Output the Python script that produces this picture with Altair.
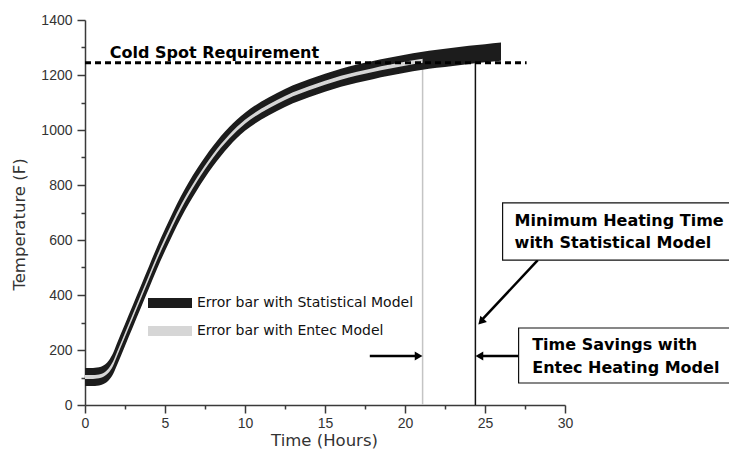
import altair as alt
import pandas as pd

# ---------------- data ----------------
STAT = "Error bar with Statistical Model"
ENTEC = "Error bar with Entec Model"

time = [0, 0.5, 0.75, 1, 1.25, 1.5, 1.75, 2, 2.5, 3, 3.5, 4, 4.5, 5, 5.5, 6, 7, 8, 9, 10,
        11, 12, 13, 14, 15, 16, 17, 18, 19, 20, 21, 22, 23, 24, 25, 26]
stat_low = [69, 69, 70, 73, 79, 91, 112, 145, 215, 285, 355, 425, 495, 560, 622, 680, 781,
            868, 940, 997, 1037, 1069, 1097, 1119, 1139, 1157, 1172, 1185, 1197, 1208,
            1218, 1226, 1233, 1240, 1246, 1252]
stat_high = [135, 135, 136, 139, 147, 163, 188, 225, 295, 365, 435, 505, 575, 640, 702, 760,
             859, 942, 1010, 1063, 1103, 1135, 1163, 1185, 1205, 1223, 1238, 1251, 1263,
             1274, 1284, 1292, 1299, 1306, 1312, 1318]

entec_time = [0, 0.5, 0.75, 1, 1.25, 1.5, 1.75, 2, 2.5, 3, 3.5, 4, 4.5, 5, 5.5, 6, 7, 8, 9,
              10, 11, 12, 13, 14, 15, 16, 17, 18, 19, 20, 21, 21.1]
entec_low = [95, 95, 96, 99, 106, 119, 142, 177, 247, 317, 387, 457, 527, 592, 654, 712, 813,
             898, 968, 1023, 1063, 1095, 1123, 1145, 1165, 1183, 1198, 1211, 1223, 1234,
             1244, 1245]
entec_high = [109, 109, 110, 113, 120, 135, 158, 193, 263, 333, 403, 473, 543, 608, 670, 728,
              827, 912, 982, 1037, 1077, 1109, 1137, 1159, 1179, 1197, 1212, 1225, 1237,
              1248, 1258, 1259]

cold_spot = 1245
cold_spot_x = [0, 27.6]
cold_label = ["Cold Spot Requirement"]
cold_label_pos = [1.55, 1262]

entec_line = {"x": 21.1, "top": 1250, "color": "#c4c4c4"}
stat_line = {"x": 24.4, "top": 1245, "color": "#111111"}

# arrows: shaft start/end (time, temperature) and head position
arrow1 = {"x": [17.8, 20.7], "y": [178, 178], "head": [20.85, 178], "shape": "triangle-right", "angle": 0}
arrow2 = {"x": [27.1, 24.8], "y": [178, 178], "head": [24.65, 178], "shape": "triangle-left", "angle": 0}
arrow3 = {"x": [28.3, 24.85], "y": [527, 312], "head": [24.75, 303], "shape": "triangle-up", "angle": 223}

box_x1 = [26.1, 27.1]
box_x2 = [40.6, 40.6]
box_y1 = [735, 280]
box_y2 = [527, 80]

box_text = ["Minimum Heating Time", "with Statistical Model",
            "Time Savings with", "Entec Heating Model"]
box_text_x = [26.85, 26.85, 27.95, 27.95]
box_text_y = [669, 589, 218, 135]

x_ticks = [i * 2.5 for i in range(13)]
y_ticks = [i * 100 for i in range(15)]

# ---------------- chart ----------------
stat_df = pd.DataFrame({"time": time, "low": stat_low, "high": stat_high, "series": STAT})
entec_df = pd.DataFrame({"time": entec_time, "low": entec_low, "high": entec_high, "series": ENTEC})

xscale = alt.Scale(domain=[0, 30], nice=False, zero=False)
yscale = alt.Scale(domain=[0, 1400], nice=False, zero=False)

AX_COLOR = "#3a3a3a"
x_axis = alt.Axis(
    values=x_ticks,
    labelExpr="datum.value % 5 === 0 ? datum.label : ''",
    tickSize={"condition": {"test": "datum.value % 5 === 0", "value": 8}, "value": 4},
    grid=False, domainColor=AX_COLOR, domainWidth=1.5, tickColor=AX_COLOR, tickWidth=1.5,
    labelFont="Liberation Sans", labelFontSize=14, labelColor="#333333", labelPadding=3,
    labelFlush=False, labelOverlap=False,
    titleFont="DejaVu Sans", titleFontSize=16.5, titleFontWeight="normal", titleColor="#333333",
    titleX=239, titleY=35, titleBaseline="middle", titleAlign="center",
)
y_axis = alt.Axis(
    values=y_ticks,
    labelExpr="datum.value % 200 === 0 ? datum.label : ''",
    tickSize={"condition": {"test": "datum.value % 200 === 0", "value": 8}, "value": 4},
    grid=False, domainColor=AX_COLOR, domainWidth=1.5, tickColor=AX_COLOR, tickWidth=1.5,
    labelFont="Liberation Sans", labelFontSize=14, labelColor="#333333", labelPadding=5,
    labelFlush=False, labelOverlap=False, format="d",
    titleFont="DejaVu Sans", titleFontSize=16.5, titleFontWeight="normal", titleColor="#333333",
    titleX=-66, titleY=204, titleAngle=270, titleBaseline="middle", titleAlign="center",
)


def X(field):
    return alt.X(field, type="quantitative", scale=xscale, axis=x_axis, title="Time (Hours)")


def Y(field):
    return alt.Y(field, type="quantitative", scale=yscale, axis=y_axis, title="Temperature (F)")


color = alt.Color(
    "series:N",
    scale=alt.Scale(domain=[STAT, ENTEC], range=["#1c1c1c", "#d6d6d6"]),
    legend=alt.Legend(
        title=None, orient="none", legendX=78, legendY=276, padding=0,
        symbolType="M-4.4,-1H4.4V1H-4.4Z", symbolSize=100, symbolStrokeWidth=0,
        symbolOpacity=1, labelFont="DejaVu Sans", labelFontSize=14, labelColor="#111111",
        labelOffset=20, rowPadding=14, labelLimit=400,
    ),
)

layers = []
for ln in (entec_line, stat_line):
    df = pd.DataFrame({"x": [ln["x"]], "y0": [0], "y1": [ln["top"]]})
    layers.append(
        alt.Chart(df).mark_rule(strokeWidth=1.5, color=ln["color"]).encode(
            x=X("x"), y=Y("y0"), y2=alt.Y2("y1")
        )
    )

stat_area = alt.Chart(stat_df).mark_area(interpolate="monotone").encode(
    x=X("time"), y=Y("low"), y2=alt.Y2("high"), color=color
)
entec_area = alt.Chart(entec_df).mark_area(interpolate="monotone").encode(
    x=X("time"), y=Y("low"), y2=alt.Y2("high"), color=color
)

cs_df = pd.DataFrame({"x0": [cold_spot_x[0]], "x1": [cold_spot_x[1]], "y": [cold_spot]})
cs_rule = alt.Chart(cs_df).mark_rule(strokeWidth=3, strokeDash=[6, 4], color="black").encode(
    x=X("x0"), x2=alt.X2("x1"), y=Y("y")
)
cs_text_df = pd.DataFrame({"x": [cold_label_pos[0]], "y": [cold_label_pos[1]], "t": cold_label})
cs_text = alt.Chart(cs_text_df).mark_text(
    align="left", baseline="alphabetic", font="DejaVu Sans", fontWeight="bold", fontSize=16,
    color="black"
).encode(x=X("x"), y=Y("y"), text="t:N")

layers += [stat_area, entec_area, cs_rule, cs_text]

for a in (arrow1, arrow2, arrow3):
    sdf = pd.DataFrame({"x": [a["x"][0]], "x2": [a["x"][1]], "y": [a["y"][0]], "y2": [a["y"][1]]})
    shaft = alt.Chart(sdf).mark_rule(strokeWidth=2.5, color="black").encode(
        x=X("x"), x2=alt.X2("x2"), y=Y("y"), y2=alt.Y2("y2")
    )
    hdf = pd.DataFrame({"x": [a["head"][0]], "y": [a["head"][1]]})
    head = alt.Chart(hdf).mark_point(
        shape=a["shape"], filled=True, size=80, color="black", opacity=1, angle=a["angle"]
    ).encode(x=X("x"), y=Y("y"))
    layers += [shaft, head]

box_df = pd.DataFrame({"x1": box_x1, "x2": box_x2, "y1": box_y1, "y2": box_y2})
boxes = alt.Chart(box_df).mark_rect(fill="white", stroke="#111111", strokeWidth=1.2).encode(
    x=X("x1"), x2=alt.X2("x2"), y=Y("y1"), y2=alt.Y2("y2")
)
bt_df = pd.DataFrame({"x": box_text_x, "y": box_text_y, "t": box_text})
btext = alt.Chart(bt_df).mark_text(
    align="left", baseline="middle", font="DejaVu Sans", fontWeight="bold", fontSize=16,
    color="black"
).encode(x=X("x"), y=Y("y"), text="t:N")
layers += [boxes, btext]

chart = alt.layer(*layers).properties(
    width=480, height=385,
    padding={"left": 77, "top": 12, "right": 164, "bottom": 44},
    autosize=alt.AutoSizeParams(type="none"),
).configure_view(stroke=None)

chart.save("out.html", embed_options={"renderer": "svg", "actions": False})
